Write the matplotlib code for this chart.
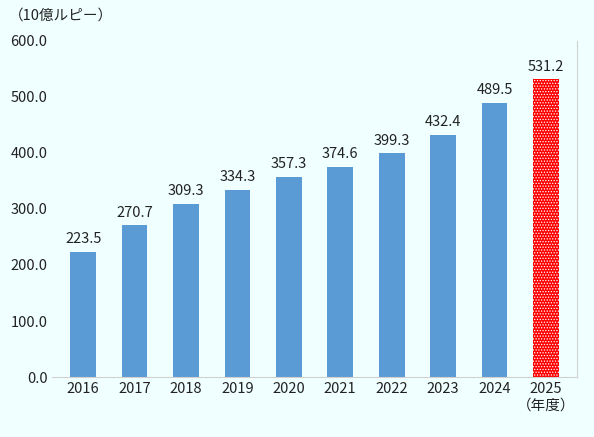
import matplotlib.pyplot as plt

plt.rcParams['font.family'] = ['Noto Sans CJK JP', 'DejaVu Sans']
plt.rcParams['hatch.color'] = "#FFFFFF"
plt.rcParams['hatch.linewidth'] = 0.6

years = ["2016", "2017", "2018", "2019", "2020", "2021", "2022", "2023", "2024", "2025\n（年度）"]
values = [223.5, 270.7, 309.3, 334.3, 357.3, 374.6, 399.3, 432.4, 489.5, 531.2]

bg = "#F0FFFF"
fig = plt.figure(figsize=(5.94, 4.37), dpi=100, facecolor=bg)
ax = fig.add_axes([0.088, 0.137, 0.883, 0.77], facecolor=bg)

colors = ["#5B9BD5"] * (len(values) - 1) + ["#FF0000"]
bars = ax.bar(range(len(values)), values, width=0.5, color=colors)
bars[-1].set_hatch("......")
bars[-1].set_edgecolor("#FFFFFF")
bars[-1].set_linewidth(0)

for i, v in enumerate(values):
    ax.text(i, v + 10, f"{v:.1f}", ha="center", va="bottom", fontsize=10.5, color="#222222")

ax.set_ylim(0, 600)
ax.set_yticks(range(0, 601, 100))
ax.set_yticklabels([f"{t:.1f}" for t in range(0, 601, 100)])
ax.set_xticks(range(len(values)))
ax.set_xticklabels(years)
ax.set_xlim(-0.6, len(values) - 0.4)
ax.tick_params(length=0, labelsize=10.5, colors="#222222")
for s in ["top", "left"]:
    ax.spines[s].set_visible(False)
ax.spines["bottom"].set_color("#D0D0D0")
ax.spines["right"].set_color("#D0D0D0")

fig.text(0.015, 0.955, "（10億ルピー）", fontsize=10.5, color="#222222")

plt.savefig("out.png", dpi=100, facecolor=bg)
